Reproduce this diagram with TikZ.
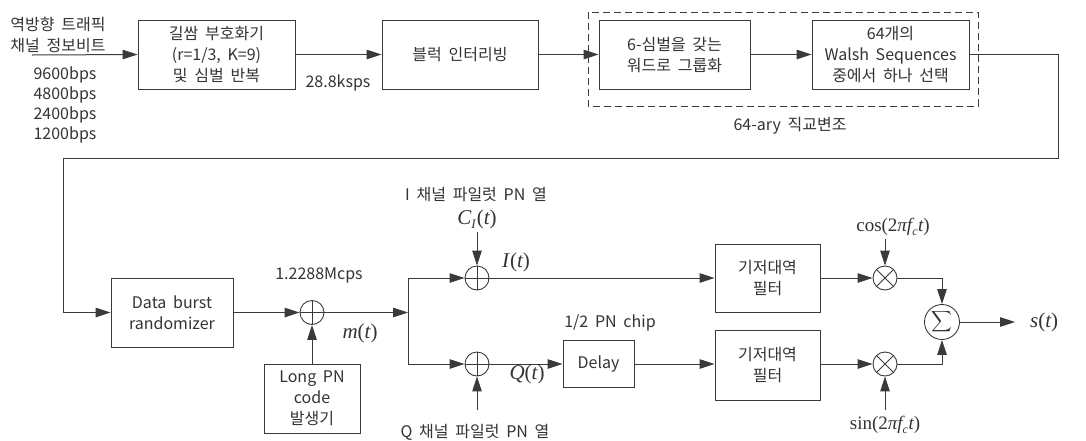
\documentclass[tikz,border=0pt]{standalone}
\usepackage{fontspec}
\setmainfont{Noto Sans CJK KR}
\newfontfamily\timesf{Liberation Serif}
\usetikzlibrary{arrows.meta}
\definecolor{lc}{HTML}{3A3A3A}
\definecolor{tc}{HTML}{333333}
\newcommand{\kt}{\fontsize{16}{21}\selectfont\spaceskip=0.42em plus 0.1em\relax}
\newcommand{\mth}{\timesf\fontsize{21}{21}\selectfont}
\newcommand{\trig}{\timesf\fontsize{19}{19}\selectfont}
\begin{document}
\begin{tikzpicture}[x=1pt,y=-1pt,
  ln/.style={draw=lc,line width=1pt},
  arr/.style={ln,-{Triangle[length=15pt,width=9.5pt]}},
  blk/.style={draw=lc,line width=0.9pt,inner sep=0pt,align=center,text=tc,font=\kt},
  lbl/.style={inner sep=0pt,align=center,text=tc,font=\kt},
  mlbl/.style={inner sep=0pt,text=tc,font=\mth},
  xorc/.style={circle,draw=lc,line width=0.9pt,minimum size=24pt,inner sep=0pt,
    path picture={\draw[lc,line width=0.9pt] (path picture bounding box.north) -- (path picture bounding box.south)
      (path picture bounding box.west) -- (path picture bounding box.east);}},
  mulc/.style={circle,draw=lc,line width=0.9pt,minimum size=24pt,inner sep=0pt,
    path picture={\draw[lc,line width=0.9pt] (path picture bounding box.center) ++(-45:12pt) -- ++(135:24pt)
      (path picture bounding box.center) ++(45:12pt) -- ++(225:24pt);}}
]
\useasboundingbox (0,0) rectangle (1086,440);

% top row
\node[lbl] (inlbl) at (58,35) {역방향 트래픽\\채널 정보비트};
\coordinate (instart) at (32,55);
\node[lbl] (r1) at (65,75) {9600bps};
\node[lbl] (r2) at (65,95) {4800bps};
\node[lbl] (r3) at (65,115) {2400bps};
\node[lbl] (r4) at (65,135) {1200bps};

\node[blk,minimum width=157pt,minimum height=69pt] (b1) at (216.5,54.5) {길쌈 부호화기\\(r=1/3, K=9)\\및 심벌 반복};
\node[blk,minimum width=156pt,minimum height=69pt] (b2) at (460,54.5) {블럭 인터리빙};
\node[lbl] (ksps) at (338,83) {28.8ksps};
\node[blk,minimum width=151pt,minimum height=69pt] (b3) at (674.5,54.5) {6-심벌을 갖는\\워드로 그룹화};
\node[blk,minimum width=157pt,minimum height=69pt] (b4) at (890.5,54.5) {64개의\\Walsh Sequences\\중에서 하나 선택};
\draw[lc,line width=1pt,dash pattern=on 7pt off 4pt] (588,12) rectangle (978,106);
\node[lbl] (ortho) at (790,126) {64-ary 직교변조};

\draw[arr] (instart) -- (b1.west);
\draw[arr] (b1.east) -- (b2.west);
\draw[arr] (b2.east) -- (b3.west);
\draw[arr] (b3.east) -- (b4.west);

% loop back
\coordinate (c1) at (1058,54.5);
\coordinate (c2) at (1058,158);
\coordinate (c3) at (63,158);
\coordinate (c4) at (63,312.5);

% bottom row
\node[blk,minimum width=122pt,minimum height=69pt] (dbr) at (172,312.5) {Data burst\\randomizer};
\draw[arr] (b4.east) -- (c1) -- (c2) -- (c3) -- (c4) -- (dbr.west);

\node[xorc] (x0) at (312,312.5) {};
\node[lbl] (mcps) at (319,275) {1.2288Mcps};
\node[blk,minimum width=96pt,minimum height=69pt] (lpn) at (312,398.5) {Long PN\\code\\발생기};
\node[mlbl] (mt) at (360,333) {{\itshape m}({\itshape t})};
\draw[arr] (dbr.east) -- (x0.west);
\draw[arr] (lpn.north) -- (x0.south);

\coordinate (br) at (408,312.5);
\coordinate (brI) at (408,278);
\coordinate (brQ) at (408,364);
\draw[arr] (x0.east) -- (br);
\node[xorc] (xI) at (477,278) {};
\node[xorc] (xQ) at (477,364) {};
\draw[arr] (br) -- (brI) -- (xI.west);
\draw[arr] (br) -- (brQ) -- (xQ.west);

\node[lbl] (ipn) at (476,195) {I 채널 파일럿 PN 열};
\node[mlbl] (ci) at (477,219) {{\itshape C}\raisebox{-0.45ex}{\fontsize{13}{13}\selectfont\itshape I}\kern1pt({\itshape t})};
\coordinate (ciend) at (477,232);
\draw[arr] (ciend) -- (xI.north);
\node[mlbl] (it) at (516,262) {{\itshape I}\kern1pt({\itshape t})};

\node[lbl] (qpn) at (475,432) {Q 채널 파일럿 PN 열};
\coordinate (qpnend) at (477,410);
\draw[arr] (qpnend) -- (xQ.south);
\node[mlbl] (qt) at (527,374) {{\itshape Q}({\itshape t})};

\node[blk,minimum width=71pt,minimum height=47pt] (dly) at (598.5,364) {Delay};
\node[lbl] (chip) at (610,323) {1/2 PN chip};
\draw[arr] (xQ.east) -- (dly.west);

\node[blk,minimum width=105pt,minimum height=68pt] (f1) at (767.5,278) {기저대역\\필터};
\node[blk,minimum width=105pt,minimum height=70pt] (f2) at (767.5,365) {기저대역\\필터};
\draw[arr] (xI.east) -- (f1.west);
\draw[arr] (dly.east) -- (dly.east -| f2.west);

\node[mulc] (mI) at (885,278) {};
\node[mulc] (mQ) at (885,364) {};
\draw[arr] (f1.east) -- (mI.west);
\draw[arr] (f2.east |- mQ) -- (mQ.west);

\node[inner sep=0pt,text=tc,font=\trig] (cosl) at (893,227) {cos(2{\itshape πf}\raisebox{-0.4ex}{\fontsize{12}{12}\selectfont\itshape c}\kern0.5pt{\itshape t})};
\node[inner sep=0pt,text=tc,font=\trig] (sinl) at (885,425) {sin(2{\itshape πf}\raisebox{-0.4ex}{\fontsize{12}{12}\selectfont\itshape c}\kern0.5pt{\itshape t})};
\coordinate (cosend) at (885,239);
\coordinate (sinend) at (885,410);
\draw[arr] (cosend) -- (mI.north);
\draw[arr] (sinend) -- (mQ.south);

\node[circle,draw=lc,line width=0.9pt,minimum size=35pt,inner sep=0pt,text=tc] (sum) at (942,322) {\scalebox{1.45}{$\displaystyle\sum$}};
\draw[arr] (mI.east) -- (mI.east -| sum.north) -- (sum.north);
\draw[arr] (mQ.east) -- (mQ.east -| sum.south) -- (sum.south);
\coordinate (outend) at (1015,322);
\draw[arr] (sum.east) -- (outend);
\node[mlbl,anchor=west] (st) at (1030,322) {{\itshape s}({\itshape t})};
\end{tikzpicture}
\end{document}
